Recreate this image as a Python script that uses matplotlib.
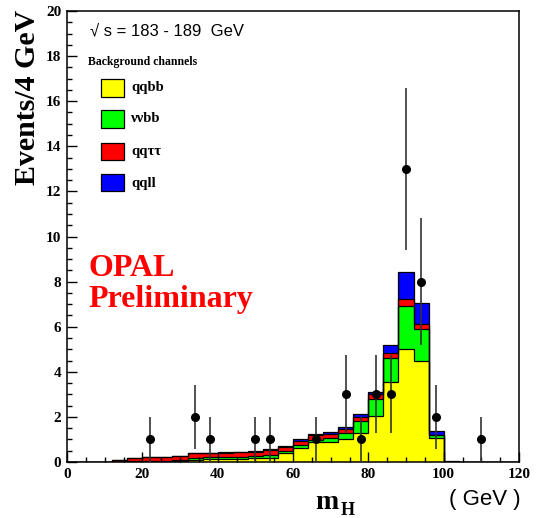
import numpy as np
import matplotlib
matplotlib.use("Agg")
import matplotlib.pyplot as plt
from matplotlib.ticker import MultipleLocator

# ---- data ----
edges = np.arange(0, 124, 4)          # 4 GeV bins, 0..120
qqbb = [0, 0, 0, 0, 0.01, 0.01, 0.02, 0.04, 0.10, 0.12, 0.13, 0.14, 0.16, 0.19, 0.40,
        0.62, 0.87, 0.88, 1.00, 1.27, 2.05, 3.56, 5.00, 4.48, 1.05, 0.02, 0, 0, 0, 0]
nnbb = [0, 0, 0, 0.01, 0.02, 0.03, 0.04, 0.05, 0.08, 0.08, 0.09, 0.10, 0.10, 0.12, 0.10,
        0.13, 0.12, 0.18, 0.30, 0.56, 0.74, 1.04, 1.93, 1.42, 0.13, 0, 0, 0, 0, 0]
qqtt = [0, 0.005, 0.02, 0.07, 0.15, 0.17, 0.18, 0.19, 0.20, 0.19, 0.20, 0.20, 0.20, 0.22, 0.17,
        0.20, 0.20, 0.18, 0.18, 0.18, 0.22, 0.22, 0.30, 0.20, 0.02, 0, 0, 0, 0, 0]
qqll = [0, 0, 0, 0, 0, 0, 0, 0, 0.02, 0.02, 0.02, 0.02, 0.03, 0.05, 0.04,
        0.05, 0.06, 0.08, 0.08, 0.10, 0.10, 0.37, 1.20, 0.94, 0.17, 0.04, 0, 0, 0, 0]
channels = ["qqbb", "\u03bd\u03bdbb", "qq\u03c4\u03c4", "qqll"]
colors = ["#ffff00", "#00ff00", "#ff0000", "#0000ff"]

data_x = [22, 34, 38, 50, 54, 66, 74, 78, 82, 86, 90, 94, 98, 110]
data_n = [1, 2, 1, 1, 1, 1, 3, 1, 3, 3, 13, 8, 2, 1]

SERIF = ["Liberation Serif", "DejaVu Serif"]
SANS = ["Liberation Sans", "DejaVu Sans"]

W, H = 536, 518
fig = plt.figure(figsize=(W / 100, H / 100), dpi=100)
ax = fig.add_axes([67 / W, 56 / H, 452 / W, 451 / H])

# stacked histogram: draw cumulative totals top-down, each filled from zero
layers = [qqbb, nnbb, qqtt, qqll]
cum = np.cumsum(np.array(layers, dtype=float), axis=0)
for i in range(len(layers) - 1, -1, -1):
    ax.stairs(cum[i], edges, fill=True, facecolor=colors[i], edgecolor="none", zorder=1)
    ax.stairs(cum[i], edges, color="black", lw=0.9, zorder=1.1)

# data points with sqrt(n) errors
ax.errorbar(data_x, data_n, yerr=np.sqrt(data_n), fmt="o", color="black",
            ms=5.5, elinewidth=1.2, ecolor="#333333", capsize=0, zorder=3)

ax.set_xlim(0, 120)
ax.set_ylim(0, 20)
ax.xaxis.set_major_locator(MultipleLocator(20))
ax.xaxis.set_minor_locator(MultipleLocator(5))
ax.yaxis.set_major_locator(MultipleLocator(2))
ax.yaxis.set_minor_locator(MultipleLocator(0.5))
ax.tick_params(which="both", direction="in", top=False, right=False, width=1.0)
ax.tick_params(which="major", length=7, pad=4)
ax.tick_params(which="minor", length=3.5)
for lab in ax.get_xticklabels() + ax.get_yticklabels():
    lab.set_family(SERIF)
    lab.set_fontweight("bold")
    lab.set_fontsize(11)
for s in ax.spines.values():
    s.set_linewidth(1.1)

# axis titles
fig.text(28 / W, 1 - 10 / H, "Events/4 GeV", rotation=90, ha="center", va="top",
         family=SERIF, fontweight="bold", fontsize=21.5)
fig.text(327 / W, 1 - 509 / H, "m", ha="center", va="baseline",
         family=SERIF, fontweight="bold", fontsize=20)
fig.text(341 / W, 1 - 515 / H, "H", ha="left", va="baseline",
         family=SERIF, fontweight="bold", fontsize=13)
fig.text(485 / W, 1 - 500 / H, "( GeV )", ha="center", va="center",
         family=SANS, fontsize=16)

# annotations
ax.text(0.05, 0.955, "\u221a s = 183 - 189  GeV", transform=ax.transAxes, ha="left",
        va="center", family=SANS, fontsize=12)
ax.text(0.047, 0.888, "Background channels", transform=ax.transAxes, ha="left",
        va="center", family=SERIF, fontweight="bold", fontsize=8.5)
box_y = [88, 119, 151, 183]
for lab, c, yp in zip(channels, colors, box_y):
    yf = (462 - yp) / 451
    ax.add_patch(plt.Rectangle((34 / 452, yf - 8.5 / 451), 23 / 452, 17 / 451,
                               transform=ax.transAxes, facecolor=c, edgecolor="black",
                               lw=0.9, zorder=4))
    ax.text(64 / 452, yf, lab, transform=ax.transAxes, ha="left", va="center",
            family=SERIF, fontweight="bold", fontsize=10.5)

ax.text(21 / 452, (462 - 284) / 451, "OPAL\nPreliminary", transform=ax.transAxes,
        ha="left", va="center", color="#ff0000", family=SERIF, fontweight="bold",
        fontsize=23, linespacing=1.05)

fig.savefig("out.png", dpi=100)
